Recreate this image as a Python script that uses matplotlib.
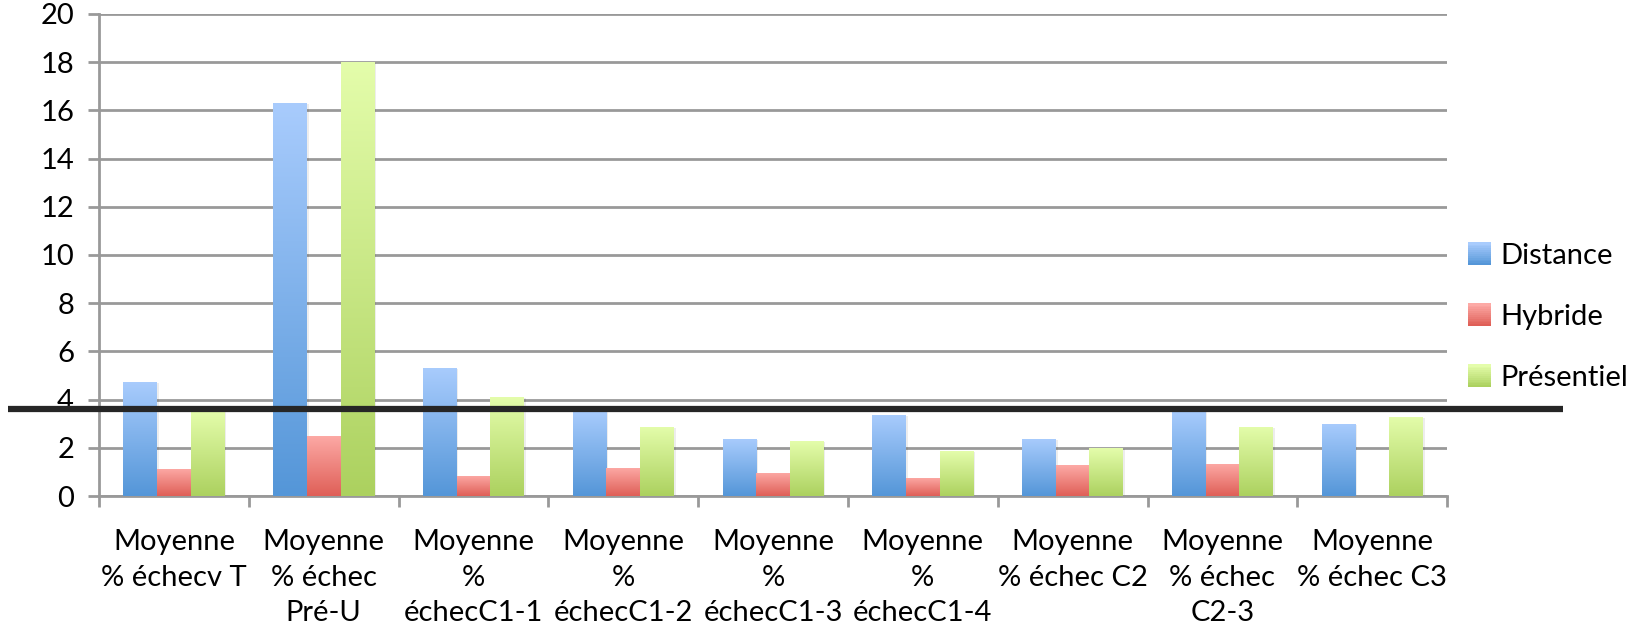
import numpy as np
import matplotlib
matplotlib.use("Agg")
import matplotlib.pyplot as plt
import matplotlib.transforms as mtransforms
from matplotlib.patches import Rectangle
from matplotlib.legend_handler import HandlerBase
from matplotlib.colors import LinearSegmentedColormap

# Data
categories = ["Moyenne\n% échecv T", "Moyenne\n% échec\nPré-U", "Moyenne\n%\néchecC1-1",
              "Moyenne\n%\néchecC1-2", "Moyenne\n%\néchecC1-3", "Moyenne\n%\néchecC1-4",
              "Moyenne\n% échec C2", "Moyenne\n% échec\nC2-3", "Moyenne\n% échec C3"]
distance = [4.73, 16.3, 5.32, 3.55, 2.37, 3.38, 2.37, 3.55, 3.0]
hybride = [1.14, 2.49, 0.85, 1.17, 0.96, 0.76, 1.27, 1.35, 0.0]
presentiel = [3.52, 18.0, 4.1, 2.87, 2.28, 1.86, 1.99, 2.87, 3.3]
series_names = ["Distance", "Hybride", "Présentiel"]
threshold = 3.63

# gradient colours (top, bottom)
grads = [("#a9ccfd", "#5496d8"), ("#fdaaa6", "#df5f57"), ("#e4fdab", "#acd15f")]

plt.rcParams['font.family'] = ['Lato', 'DejaVu Sans']

fig = plt.figure(figsize=(16.37, 6.28), dpi=100)
ax = fig.add_axes([0.0605, 0.21, 0.8235, 0.768])

x = np.arange(len(categories))
w = 0.225
offsets = [-w, 0, w]
all_vals = [distance, hybride, presentiel]

for vals, off, (ctop, cbot), name in zip(all_vals, offsets, grads, series_names):
    cmap = LinearSegmentedColormap.from_list(name, [cbot, ctop])
    bars = ax.bar(x + off, vals, w, color="none", edgecolor="none", zorder=3, label=name)
    for b in bars:
        h = b.get_height()
        if h <= 0:
            continue
        x0 = b.get_x()
        # soft shadow
        ax.add_patch(Rectangle((x0 + 0.012, 0), w, h - 0.05, facecolor="#000000",
                               alpha=0.07, edgecolor="none", zorder=2.5))
        grad = np.linspace(0, 1, 256).reshape(-1, 1)
        im = ax.imshow(grad, cmap=cmap, aspect="auto", origin="lower",
                       extent=[x0, x0 + w, 0, h], zorder=3)
        im.set_clip_path(b)

ax.set_xlim(-0.5, len(categories) - 0.5)
ax.set_ylim(0, 20)
ax.set_yticks(np.arange(0, 21, 2))
ax.set_xticks(x)
ax.set_xticklabels(categories, fontsize=21, linespacing=1.45)
ax.set_xticks(np.arange(-0.5, len(categories), 1), minor=True)
ax.tick_params(axis="x", which="major", length=0, pad=24)
ax.tick_params(axis="x", which="minor", length=8, width=2, color="#999999")
ax.tick_params(axis="y", length=8, width=2, color="#999999", labelsize=21, pad=10)

ax.grid(axis="y", color="#999999", linewidth=2, zorder=1)
ax.set_axisbelow(True)
for s in ["top", "right"]:
    ax.spines[s].set_visible(False)
for s in ["left", "bottom"]:
    ax.spines[s].set_color("#999999")
    ax.spines[s].set_linewidth(2)

# thick black line running across the whole figure
trans = mtransforms.blended_transform_factory(fig.transFigure, ax.transData)
ax.plot([0.005, 0.955], [threshold, threshold], color="#262626", linewidth=4.5,
        transform=trans, clip_on=False, zorder=6, solid_capstyle="butt")


class GradHandler(HandlerBase):
    def __init__(self, ctop, cbot):
        super().__init__()
        self.ctop, self.cbot = ctop, cbot

    def create_artists(self, legend, orig_handle, xdescent, ydescent, width, height, fontsize, trans):
        cmap = LinearSegmentedColormap.from_list("g", [self.cbot, self.ctop])
        n = 12
        side = height * 1.1
        arts = []
        for i in range(n):
            arts.append(Rectangle((-xdescent, -ydescent + i * side / n - 0.05 * height),
                                  side, side / n + 0.2, facecolor=cmap(i / (n - 1)),
                                  edgecolor="none", transform=trans))
        return arts


handles = ax.containers
hmap = {h: GradHandler(c[0], c[1]) for h, c in zip(handles, grads)}
fig.legend(handles, series_names, handler_map=hmap, loc="center left",
           bbox_to_anchor=(0.881, 0.495), frameon=False, fontsize=21,
           labelspacing=1.2, handlelength=0.7, handletextpad=0.4)

fig.savefig("out.png", dpi=100)
